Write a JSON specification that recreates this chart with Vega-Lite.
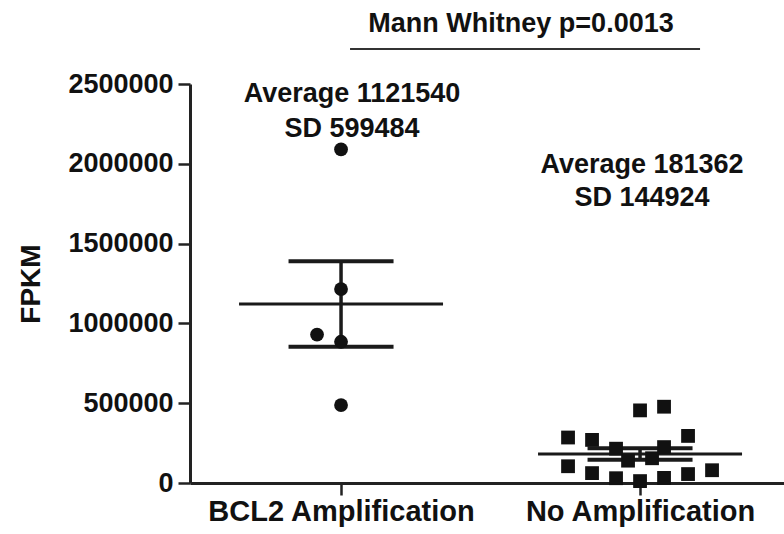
{
  "$schema": "https://vega.github.io/schema/vega-lite/v6.json",
  "width": 594,
  "height": 399,
  "autosize": {"type": "none"},
  "padding": {"left": 190, "top": 84, "right": 0, "bottom": 51},
  "background": "white",
  "config": {
    "view": {"stroke": null},
    "font": "Liberation Sans",
    "axis": {"grid": false},
    "axisX": {
      "labelAngle": 0, "labelFontSize": 29, "labelFontWeight": "bold", "labelColor": "#111111", "labelLimit": 0,
      "labelFont": "Liberation Sans", "domainColor": "#222222", "domainWidth": 3,
      "tickColor": "#222222", "tickWidth": 2.5, "tickSize": 12, "labelPadding": 2
    },
    "axisY": {
      "labelFontSize": 27, "labelFontWeight": "bold", "labelColor": "#111111", "labelFont": "Liberation Sans", "labelLimit": 0,
      "domainColor": "#222222", "domainWidth": 3, "tickColor": "#222222", "tickWidth": 2.5, "tickSize": 12,
      "labelPadding": 5, "titleFontSize": 28, "titleFontWeight": "bold", "titleColor": "#111111",
      "titleFont": "Liberation Sans", "titlePadding": 22
    }
  },
  "datasets": {
    "points": [
      {"group": "BCL2 Amplification", "value": 2090000, "col": 0},
      {"group": "BCL2 Amplification", "value": 1215000, "col": 0},
      {"group": "BCL2 Amplification", "value": 930000, "col": -1},
      {"group": "BCL2 Amplification", "value": 885000, "col": 0},
      {"group": "BCL2 Amplification", "value": 488000, "col": 0},
      {"group": "No Amplification", "value": 285000, "col": -3},
      {"group": "No Amplification", "value": 105000, "col": -3},
      {"group": "No Amplification", "value": 270000, "col": -2},
      {"group": "No Amplification", "value": 62000, "col": -2},
      {"group": "No Amplification", "value": 215000, "col": -1},
      {"group": "No Amplification", "value": 30000, "col": -1},
      {"group": "No Amplification", "value": 140000, "col": -0.5},
      {"group": "No Amplification", "value": 455000, "col": 0},
      {"group": "No Amplification", "value": 12000, "col": 0},
      {"group": "No Amplification", "value": 155000, "col": 0.5},
      {"group": "No Amplification", "value": 478000, "col": 1},
      {"group": "No Amplification", "value": 225000, "col": 1},
      {"group": "No Amplification", "value": 32000, "col": 1},
      {"group": "No Amplification", "value": 295000, "col": 2},
      {"group": "No Amplification", "value": 56000, "col": 2},
      {"group": "No Amplification", "value": 80000, "col": 3}
    ],
    "stats": [
      {"group": "BCL2 Amplification", "mean": 1121540, "lo": 853442, "hi": 1389638},
      {"group": "No Amplification", "mean": 181362, "lo": 145131, "hi": 217593}
    ]
  },
  "layer": [
    {
      "data": {"name": "stats"},
      "mark": {"type": "rule", "strokeWidth": 3.5, "color": "#1a1a1a"},
      "encoding": {
        "x": {"field": "group", "type": "nominal", "scale": {"type": "point", "domain": ["BCL2 Amplification", "No Amplification"], "padding": 0.4933, "align": 0.512}, "axis": {"title": null}},
        "y": {"field": "lo", "type": "quantitative", "scale": {"domain": [0, 2500000], "nice": false}, "title": "FPKM",
              "axis": {"values": [0, 500000, 1000000, 1500000, 2000000, 2500000], "format": "d"}},
        "y2": {"field": "hi"}
      }
    },
    {
      "data": {"name": "stats"},
      "mark": {"type": "tick", "orient": "horizontal", "size": 105, "thickness": 4, "color": "#1a1a1a", "opacity": 1},
      "encoding": {
        "x": {"field": "group", "type": "nominal", "scale": {"type": "point", "domain": ["BCL2 Amplification", "No Amplification"], "padding": 0.4933, "align": 0.512}, "axis": {"title": null}},
        "y": {"field": "hi", "type": "quantitative", "scale": {"domain": [0, 2500000], "nice": false}, "title": "FPKM"}
      }
    },
    {
      "data": {"name": "stats"},
      "mark": {"type": "tick", "orient": "horizontal", "size": 105, "thickness": 4, "color": "#1a1a1a", "opacity": 1},
      "encoding": {
        "x": {"field": "group", "type": "nominal", "scale": {"type": "point", "domain": ["BCL2 Amplification", "No Amplification"], "padding": 0.4933, "align": 0.512}, "axis": {"title": null}},
        "y": {"field": "lo", "type": "quantitative", "scale": {"domain": [0, 2500000], "nice": false}, "title": "FPKM"}
      }
    },
    {
      "data": {"name": "stats"},
      "mark": {"type": "tick", "orient": "horizontal", "size": 204, "thickness": 3, "color": "#1a1a1a", "opacity": 1},
      "encoding": {
        "x": {"field": "group", "type": "nominal", "scale": {"type": "point", "domain": ["BCL2 Amplification", "No Amplification"], "padding": 0.4933, "align": 0.512}, "axis": {"title": null}},
        "y": {"field": "mean", "type": "quantitative", "scale": {"domain": [0, 2500000], "nice": false}, "title": "FPKM"}
      }
    },
    {
      "data": {"name": "points"},
      "mark": {"type": "point", "filled": true, "size": 190, "opacity": 1, "color": "#111111"},
      "encoding": {
        "x": {"field": "group", "type": "nominal", "scale": {"type": "point", "domain": ["BCL2 Amplification", "No Amplification"], "padding": 0.4933, "align": 0.512}, "axis": {"title": null}},
        "xOffset": {"field": "col", "type": "quantitative", "scale": {"domain": [-3, 3], "range": [-72, 72]}},
        "y": {"field": "value", "type": "quantitative", "scale": {"domain": [0, 2500000], "nice": false}, "title": "FPKM"},
        "shape": {"field": "group", "type": "nominal", "scale": {"domain": ["BCL2 Amplification", "No Amplification"], "range": ["circle", "square"]}, "legend": null}
      }
    },
    {
      "data": {"values": [{"group": "BCL2 Amplification", "y": 2387000, "label": ["Average 1121540", "SD 599484"]}]},
      "mark": {"type": "text", "fontSize": 27, "fontWeight": "bold", "font": "Liberation Sans", "color": "#111111", "align": "center", "baseline": "alphabetic", "lineHeight": 35, "dx": 11},
      "encoding": {
        "x": {"field": "group", "type": "nominal", "scale": {"type": "point", "domain": ["BCL2 Amplification", "No Amplification"], "padding": 0.4933, "align": 0.512}, "axis": {"title": null}},
        "y": {"field": "y", "type": "quantitative", "scale": {"domain": [0, 2500000], "nice": false}, "title": "FPKM"},
        "text": {"field": "label"}
      }
    },
    {
      "data": {"values": [{"group": "No Amplification", "y": 1942000, "label": ["Average 181362", "SD 144924"]}]},
      "mark": {"type": "text", "fontSize": 27, "fontWeight": "bold", "font": "Liberation Sans", "color": "#111111", "align": "center", "baseline": "alphabetic", "lineHeight": 33, "dx": 2},
      "encoding": {
        "x": {"field": "group", "type": "nominal", "scale": {"type": "point", "domain": ["BCL2 Amplification", "No Amplification"], "padding": 0.4933, "align": 0.512}, "axis": {"title": null}},
        "y": {"field": "y", "type": "quantitative", "scale": {"domain": [0, 2500000], "nice": false}, "title": "FPKM"},
        "text": {"field": "label"}
      }
    },
    {
      "data": {"values": [{"from": "BCL2 Amplification", "to": "No Amplification", "y": 2719000, "label": "Mann Whitney p=0.0013", "ty": 2826000}]},
      "layer": [
        {
          "mark": {"type": "rule", "strokeWidth": 2, "color": "#333333", "xOffset": 9, "x2Offset": 60},
          "encoding": {
            "x": {"field": "from", "type": "nominal", "scale": {"type": "point", "domain": ["BCL2 Amplification", "No Amplification"], "padding": 0.4933, "align": 0.512}, "axis": {"title": null}},
            "x2": {"field": "to"},
            "y": {"field": "y", "type": "quantitative", "scale": {"domain": [0, 2500000], "nice": false}, "title": "FPKM"}
          }
        },
        {
          "mark": {"type": "text", "fontSize": 27, "fontWeight": "bold", "font": "Liberation Sans", "color": "#111111", "align": "center", "baseline": "alphabetic", "dx": 180},
          "encoding": {
            "x": {"field": "from", "type": "nominal", "scale": {"type": "point", "domain": ["BCL2 Amplification", "No Amplification"], "padding": 0.4933, "align": 0.512}, "axis": {"title": null}},
            "y": {"field": "ty", "type": "quantitative", "scale": {"domain": [0, 2500000], "nice": false}, "title": "FPKM"},
            "text": {"field": "label"}
          }
        }
      ]
    }
  ]
}
